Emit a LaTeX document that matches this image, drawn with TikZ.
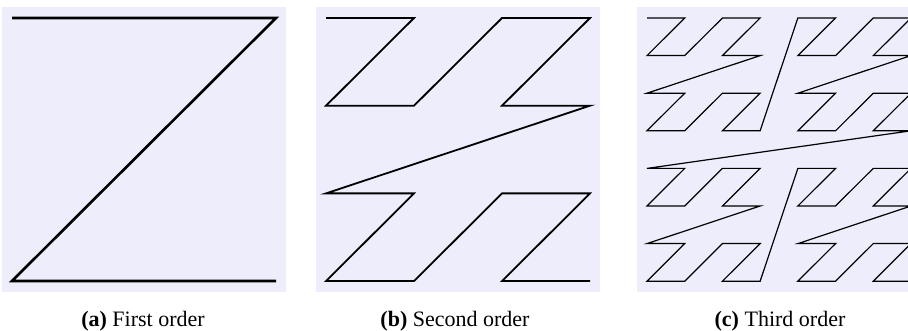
\documentclass[tikz,border=0pt]{standalone}
\usepackage{fontspec}
\setmainfont{Liberation Serif}
\definecolor{panelbg}{RGB}{237,237,252}
\tikzset{
  panel/.style={fill=panelbg, draw=none},
  zline/.style={draw=black, line join=miter},
  captext/.style={anchor=base, inner sep=0pt, font=\fontsize{22}{24}\selectfont},
}
\begin{document}
\begin{tikzpicture}[x=1pt,y=-1pt]
\useasboundingbox (0,0) rectangle (908,331);
\clip (0,0) rectangle (908,331);
% backgrounds
\fill[panel] (2,7) rectangle (286,292);
\fill[panel] (316,7) rectangle (600,292);
\fill[panel] (637,7) rectangle (921,292);
% first order
\begin{scope}[shift={(12,18)}, x=264pt, y=-263pt]
\draw[zline, line width=2.6pt] (0,0) -- (1,0) -- (0,1) -- (1,1);
\end{scope}
% second order
\begin{scope}[shift={(326,18)}, x=88pt, y=-87.7pt]
\draw[zline, line width=1.8pt] (0,0) -- (1,0) -- (0,1) -- (1,1) -- (2,0) -- (3,0) -- (2,1) -- (3,1)
  -- (0,2) -- (1,2) -- (0,3) -- (1,3) -- (2,2) -- (3,2) -- (2,3) -- (3,3);
\end{scope}
% third order
\begin{scope}[shift={(647,18)}, x=37.71pt, y=-37.6pt]
\draw[zline, line width=1.2pt]
  (0,0) -- (1,0) -- (0,1) -- (1,1) -- (2,0) -- (3,0) -- (2,1) -- (3,1)
  -- (0,2) -- (1,2) -- (0,3) -- (1,3) -- (2,2) -- (3,2) -- (2,3) -- (3,3)
  -- (4,0) -- (5,0) -- (4,1) -- (5,1) -- (6,0) -- (7,0) -- (6,1) -- (7,1)
  -- (4,2) -- (5,2) -- (4,3) -- (5,3) -- (6,2) -- (7,2) -- (6,3) -- (7,3)
  -- (0,4) -- (1,4) -- (0,5) -- (1,5) -- (2,4) -- (3,4) -- (2,5) -- (3,5)
  -- (0,6) -- (1,6) -- (0,7) -- (1,7) -- (2,6) -- (3,6) -- (2,7) -- (3,7)
  -- (4,4) -- (5,4) -- (4,5) -- (5,5) -- (6,4) -- (7,4) -- (6,5) -- (7,5)
  -- (4,6) -- (5,6) -- (4,7) -- (5,7) -- (6,6) -- (7,6) -- (6,7) -- (7,7);
\end{scope}
% captions
\node[captext] (capa) at (143,326) {\textbf{(a)} First order};
\node[captext] (capb) at (455,326) {\textbf{(b)} Second order};
\node[captext] (capc) at (780,326) {\textbf{(c)} Third order};
\end{tikzpicture}
\end{document}
